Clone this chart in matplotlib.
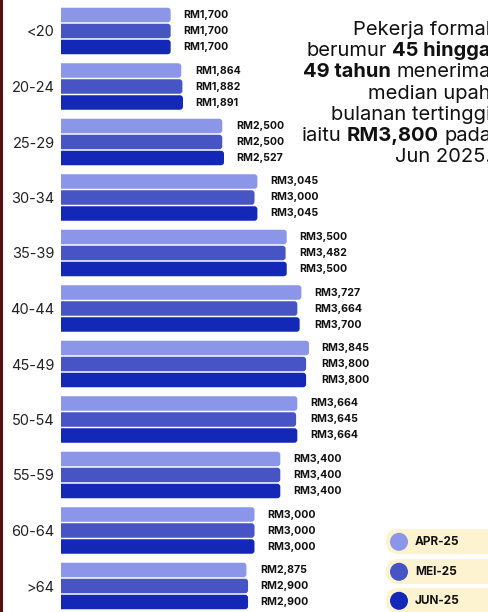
import numpy as np
import matplotlib
matplotlib.use('Agg')
import matplotlib.pyplot as plt
from matplotlib.patches import FancyBboxPatch, Circle, Rectangle

plt.rcParams['font.family'] = ['Inter', 'DejaVu Sans']

categories = ['<20', '20-24', '25-29', '30-34', '35-39', '40-44',
              '45-49', '50-54', '55-59', '60-64', '>64']
apr = [1700, 1864, 2500, 3045, 3500, 3727, 3845, 3664, 3400, 3000, 2875]
mei = [1700, 1882, 2500, 3000, 3482, 3664, 3800, 3645, 3400, 3000, 2900]
jun = [1700, 1891, 2527, 3045, 3500, 3700, 3800, 3664, 3400, 3000, 2900]
series_names = ['APR-25', 'MEI-25', 'JUN-25']
colors = ['#8b96e8', '#4654c4', '#1428b8']

W, H = 488, 612
fig = plt.figure(figsize=(W / 100, H / 100), dpi=100)

# main axes (pixel-based layout)
left_px = 61
px_per_unit = 0.0645
pitch = 55.5
first_center = 31
ax = fig.add_axes([left_px / W, 0, (W - left_px) / W, 1])
ax.set_xlim(0, (W - left_px) / px_per_unit)
ax.set_ylim((H - first_center) / pitch, -first_center / pitch)

n = len(categories)
y = np.arange(n)
bh = 14.5 / pitch
off = 16 / pitch
r = 3 / px_per_unit
asp = px_per_unit / pitch

all_series = [apr, mei, jun]
for k, (vals, c) in enumerate(zip(all_series, colors)):
    bars = ax.barh(y + (k - 1) * off, vals, height=bh, color=c)
    for rect in bars:
        x0, y0, w, h = rect.get_x(), rect.get_y(), rect.get_width(), rect.get_height()
        rect.set_visible(False)
        fb = FancyBboxPatch((x0 - r, y0), w + r, h,
                            boxstyle=f"round,pad=0,rounding_size={r}",
                            mutation_aspect=asp, facecolor=c, edgecolor='none')
        ax.add_patch(fb)

for i in range(n):
    gmax = max(apr[i], mei[i], jun[i])
    for k, vals in enumerate(all_series):
        ax.annotate(f"RM{vals[i]:,}", xy=(gmax, i + (k - 1) * off),
                    xytext=(9, 0), textcoords='offset points',
                    ha='left', va='center', fontsize=7.6, fontweight='bold',
                    color='#111111')

ax.set_yticks(y, categories)
ax.tick_params(axis='y', length=0, pad=4.5, labelsize=10.5, labelcolor='#222222')
ax.set_xticks([])
for s in ax.spines.values():
    s.set_visible(False)
ax.patch.set_alpha(0)

# overlay in pixel coordinates
ov = fig.add_axes([0, 0, 1, 1], zorder=5)
ov.set_xlim(0, W)
ov.set_ylim(H, 0)
ov.axis('off')
ov.patch.set_alpha(0)

ov.add_patch(Rectangle((0, 0), 3, H, facecolor='#5a1012', edgecolor='none'))

# annotation text
renderer = fig.canvas.get_renderer()
lines = [
    [("Pekerja formal", False)],
    [("berumur", False), ("45 hingga", True)],
    [("49 tahun", True), ("menerima", False)],
    [("median upah", False)],
    [("bulanan tertinggi", False)],
    [("iaitu", False), ("RM3,800", True), ("pada", False)],
    [("Jun 2025.", False)],
]
fs = 14.5
right_x = 491
base0 = 35
lpitch = 21.2
gap = fs * 1.3889 * 0.27
for li, pieces in enumerate(lines):
    yb = base0 + li * lpitch
    texts = []
    for txt, bold in pieces:
        t = ov.text(0, yb, txt, fontsize=fs, fontweight='bold' if bold else 'normal',
                    ha='left', va='baseline', color='#111111')
        texts.append(t)
    widths = [t.get_window_extent(renderer).width for t in texts]
    total = sum(widths) + gap * (len(texts) - 1)
    x = right_x - total
    for t, w in zip(texts, widths):
        t.set_x(x)
        x += w + gap

# legend
pill_y = [529, 559, 588]
for name, c, py in zip(series_names, colors, pill_y):
    ov.add_patch(FancyBboxPatch((386, py), 130, 25,
                                boxstyle="round,pad=0,rounding_size=12.5",
                                facecolor='#fdf3d0', edgecolor='none'))
    ov.add_patch(Circle((399, py + 12.8), 9, facecolor=c, edgecolor='none'))
    ov.text(415, py + 13, name, fontsize=8.5, fontweight='bold', ha='left',
            va='center', color='#111111')

fig.savefig('out.png', dpi=100)
